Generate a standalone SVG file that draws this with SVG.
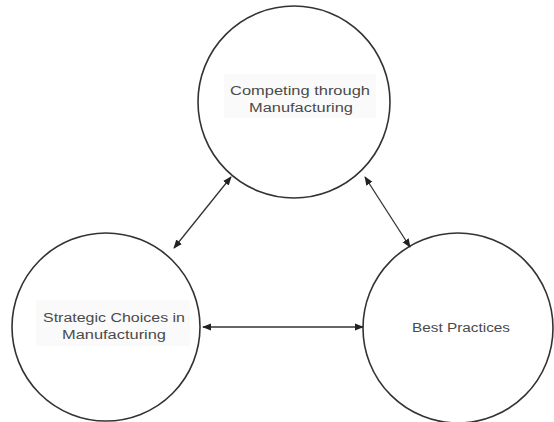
<svg xmlns="http://www.w3.org/2000/svg" width="554" height="422" viewBox="0 0 554 422">
<defs>
<style>
.node{fill:#fff;stroke:#333;stroke-width:1.6}
.lbl{font-family:"Liberation Sans",Arial,sans-serif;font-size:12.5px;fill:#4a4a4a;text-anchor:middle}
.bg{fill:#fafafa}
.conn{stroke:#333;stroke-width:1.3;fill:none;marker-start:url(#ah);marker-end:url(#ah)}
</style>
<marker id="ah" viewBox="0 0 10 10" refX="9" refY="5" markerWidth="9" markerHeight="9" orient="auto-start-reverse" markerUnits="userSpaceOnUse">
<path d="M0,1 L10,5 L0,9 Z" fill="#222"/>
</marker>
</defs>
<g id="node-competing">
<circle class="node" cx="294" cy="102" r="96"/>
<rect class="bg" x="224" y="74" width="152" height="44"/>
<text class="lbl" x="300" y="95" textLength="140" lengthAdjust="spacingAndGlyphs">Competing through</text>
<text class="lbl" x="301" y="112" textLength="104" lengthAdjust="spacingAndGlyphs">Manufacturing</text>
</g>
<g id="node-strategic">
<circle class="node" cx="106" cy="327" r="94"/>
<rect class="bg" x="36" y="300" width="154" height="46"/>
<text class="lbl" x="114" y="322" textLength="142" lengthAdjust="spacingAndGlyphs">Strategic Choices in</text>
<text class="lbl" x="114" y="339" textLength="104" lengthAdjust="spacingAndGlyphs">Manufacturing</text>
</g>
<g id="node-best">
<circle class="node" cx="458" cy="328" r="95"/>
<text class="lbl" x="461" y="332" textLength="98" lengthAdjust="spacingAndGlyphs">Best Practices</text>
</g>
<g id="connectors">
<line class="conn" x1="174" y1="248" x2="231" y2="177"/>
<line class="conn" x1="365" y1="177" x2="410" y2="247"/>
<line class="conn" x1="203" y1="327" x2="363" y2="327"/>
</g>
</svg>
